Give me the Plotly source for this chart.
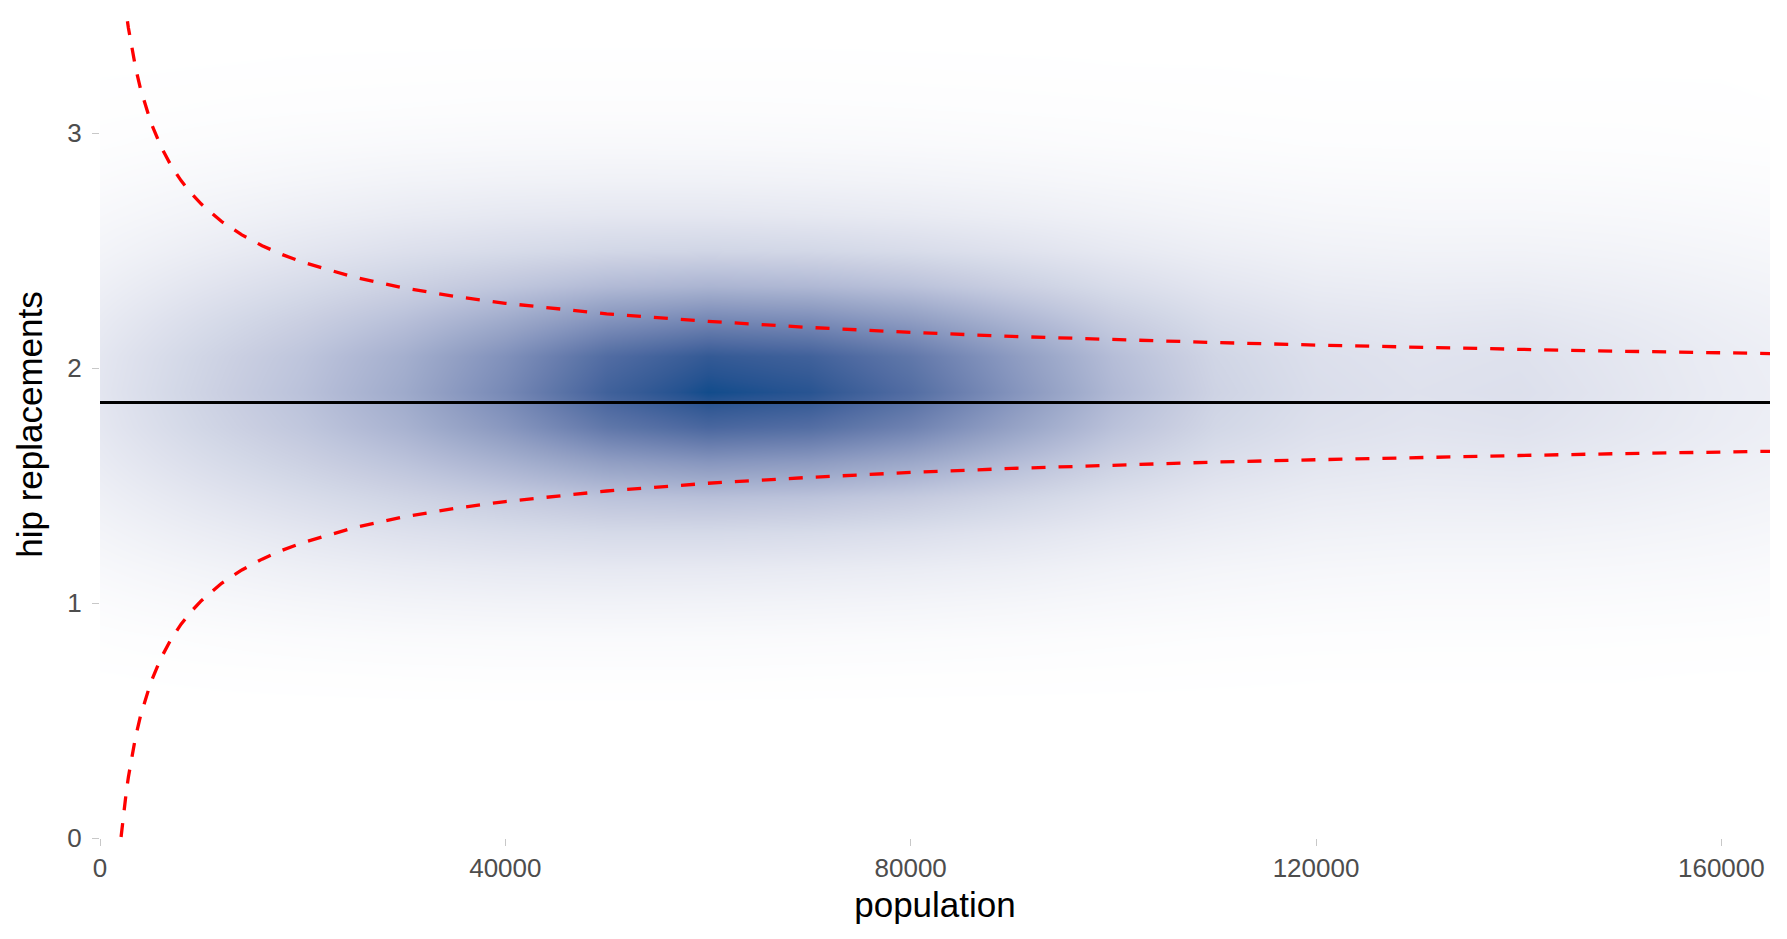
import plotly.graph_objects as go

# ---------------- data ----------------
# density grid (relative, 0..1) of areas by population and rate
grid_population = [0, 10000, 20000, 30000, 40000, 50000, 60000, 70000, 80000,
                   90000, 100000, 110000, 120000, 130000, 140000, 150000, 160000, 164800]
grid_rate = [0.55, 0.7, 0.85, 1.0, 1.15, 1.3, 1.45, 1.6, 1.75, 1.9, 2.05, 2.2, 2.35,
             2.5, 2.65, 2.8, 2.95, 3.1, 3.25, 3.4, 3.55]
density = [
    [0, 0, 0, 0, 0, 0, 0, 0, 0, 0, 0, 0, 0, 0, 0, 0, 0, 0],
    [.002, .004, .006, .008, .009, .009, .009, .008, .007, .006, .005, .004, .003, .003, .003, .003, .002, .002],
    [.008, .014, .020, .024, .026, .027, .026, .024, .022, .019, .015, .012, .010, .009, .009, .008, .007, .006],
    [.020, .034, .046, .056, .062, .064, .062, .058, .053, .046, .037, .030, .025, .023, .023, .021, .018, .016],
    [.036, .058, .080, .097, .108, .113, .111, .104, .095, .082, .064, .051, .043, .039, .039, .036, .031, .027],
    [.055, .090, .122, .152, .174, .189, .190, .180, .161, .135, .105, .083, .067, .062, .062, .056, .047, .042],
    [.077, .128, .176, .223, .268, .313, .328, .311, .273, .219, .161, .119, .096, .088, .090, .080, .065, .058],
    [.100, .169, .236, .311, .403, .508, .557, .529, .455, .346, .238, .164, .128, .115, .120, .102, .082, .073],
    [.119, .207, .291, .398, .547, .731, .828, .786, .666, .490, .320, .206, .155, .137, .145, .121, .094, .084],
    [.128, .224, .318, .443, .627, .862, .994, .944, .790, .572, .364, .226, .168, .148, .158, .128, .098, .088],
    [.122, .212, .300, .416, .583, .794, .908, .861, .727, .529, .339, .213, .159, .140, .149, .122, .094, .084],
    [.102, .175, .246, .331, .443, .580, .648, .616, .525, .391, .261, .173, .132, .118, .124, .104, .082, .073],
    [.078, .131, .182, .236, .293, .357, .386, .366, .318, .247, .176, .126, .098, .090, .092, .080, .065, .058],
    [.055, .091, .125, .158, .184, .207, .214, .204, .180, .148, .112, .085, .068, .062, .063, .057, .047, .042],
    [.037, .059, .081, .100, .114, .121, .121, .114, .103, .087, .069, .054, .044, .040, .040, .037, .031, .027],
    [.022, .036, .048, .060, .066, .069, .068, .064, .058, .050, .040, .032, .026, .024, .024, .022, .018, .016],
    [.011, .018, .025, .030, .033, .034, .033, .031, .028, .024, .019, .015, .012, .011, .011, .010, .008, .007],
    [.005, .008, .011, .013, .015, .015, .015, .014, .013, .011, .009, .007, .005, .005, .005, .005, .004, .003],
    [.002, .003, .004, .005, .006, .006, .006, .006, .005, .004, .003, .003, .002, .002, .002, .002, .002, .001],
    [0, 0, .001, .001, .001, .001, .001, .001, .001, .001, .001, 0, 0, 0, 0, 0, 0, 0],
    [0, 0, 0, 0, 0, 0, 0, 0, 0, 0, 0, 0, 0, 0, 0, 0, 0, 0],
]

# overall mean rate
mean_population = [0, 164800]
mean_rate = [1.854, 1.854]

# funnel (95% control limits)
funnel_population = [2080, 2200, 2400, 2600, 2800, 3000, 3500, 4000, 4500, 5000,
                     6000, 7000, 8000, 9000, 10000, 12000, 14000, 16000, 18000, 20000,
                     25000, 30000, 35000, 40000, 50000, 60000, 70000, 80000, 90000,
                     100000, 110000, 120000, 130000, 140000, 150000, 160000, 164800]
funnel_upper = [3.705, 3.653, 3.577, 3.509, 3.449, 3.395, 3.281, 3.188, 3.112, 3.048,
                2.944, 2.863, 2.798, 2.744, 2.698, 2.624, 2.567, 2.521, 2.483, 2.451,
                2.388, 2.341, 2.305, 2.276, 2.231, 2.199, 2.173, 2.152, 2.135,
                2.121, 2.109, 2.098, 2.088, 2.080, 2.072, 2.065, 2.062]
funnel_lower = [0.004, 0.055, 0.131, 0.199, 0.259, 0.313, 0.428, 0.520, 0.596, 0.661,
                0.764, 0.845, 0.910, 0.964, 1.010, 1.084, 1.141, 1.187, 1.225, 1.257,
                1.320, 1.367, 1.403, 1.432, 1.477, 1.510, 1.535, 1.556, 1.573,
                1.587, 1.600, 1.610, 1.620, 1.628, 1.636, 1.643, 1.646]

x_ticks = [0, 40000, 80000, 120000, 160000]
y_ticks = [0, 1, 2, 3]

# ---------------- colour scale: white -> dark blue, interpolated in CIELab ----------------
def _lin(c):
    c = c / 255.0
    return c / 12.92 if c <= 0.04045 else ((c + 0.055) / 1.055) ** 2.4

def _delin(c):
    c = 12.92 * c if c <= 0.0031308 else 1.055 * c ** (1 / 2.4) - 0.055
    return max(0, min(255, round(c * 255)))

WX, WY, WZ = 0.95047, 1.0, 1.08883

def rgb_to_lab(rgb):
    r, g, b = (_lin(v) for v in rgb)
    X = 0.4124 * r + 0.3576 * g + 0.1805 * b
    Y = 0.2126 * r + 0.7152 * g + 0.0722 * b
    Z = 0.0193 * r + 0.1192 * g + 0.9505 * b
    def f(t):
        return t ** (1 / 3) if t > 0.008856 else 7.787 * t + 16 / 116
    fx, fy, fz = f(X / WX), f(Y / WY), f(Z / WZ)
    return (116 * fy - 16, 500 * (fx - fy), 200 * (fy - fz))

def lab_to_rgb(lab):
    L, a, b = lab
    fy = (L + 16) / 116
    fx = fy + a / 500
    fz = fy - b / 200
    def finv(t):
        return t ** 3 if t ** 3 > 0.008856 else (t - 16 / 116) / 7.787
    X, Y, Z = WX * finv(fx), WY * finv(fy), WZ * finv(fz)
    r = 3.2406 * X - 1.5372 * Y - 0.4986 * Z
    g = -0.9689 * X + 1.8758 * Y + 0.0415 * Z
    bb = 0.0557 * X - 0.2040 * Y + 1.0570 * Z
    return tuple(_delin(max(0.0, v)) for v in (r, g, bb))

low_col = (255, 255, 255)
high_col = (15, 75, 139)
lab_lo, lab_hi = rgb_to_lab(low_col), rgb_to_lab(high_col)
colorscale = []
n_stops = 21
for i in range(n_stops):
    t = i / (n_stops - 1)
    lab = tuple(lab_lo[k] + (lab_hi[k] - lab_lo[k]) * t for k in range(3))
    r, g, b = lab_to_rgb(lab)
    colorscale.append([t, f"rgb({r},{g},{b})"])

# ---------------- figure ----------------
FONT = "Liberation Sans, Arial, Helvetica, sans-serif"
RED_DASH = dict(color="#FF0000", width=3.3, dash="14px,13px")

fig = go.Figure()
fig.add_trace(go.Heatmap(
    x=grid_population, y=grid_rate, z=density,
    zmin=0, zmax=1, zsmooth="best",
    colorscale=colorscale, showscale=False, hoverinfo="skip",
))
fig.add_trace(go.Scatter(x=funnel_population, y=funnel_upper, mode="lines",
                         line=RED_DASH, hoverinfo="skip"))
fig.add_trace(go.Scatter(x=funnel_population, y=funnel_lower, mode="lines",
                         line=RED_DASH, hoverinfo="skip"))
fig.add_trace(go.Scatter(x=mean_population, y=mean_rate, mode="lines",
                         line=dict(color="#000000", width=3), hoverinfo="skip"))

# page body has an 8px margin, so the figure is sized/placed to compensate
fig.update_layout(
    width=1771, height=923,
    margin=dict(l=92, r=9, t=3, b=93),
    paper_bgcolor="white", plot_bgcolor="white",
    showlegend=False,
    font=dict(family=FONT),
)
fig.update_xaxes(
    range=[0, 164800], tickvals=x_ticks, ticktext=[str(v) for v in x_ticks],
    showgrid=False, zeroline=False, showline=False,
    ticks="outside", ticklen=7, tickwidth=1, tickcolor="#c8c8c8",
    tickfont=dict(size=26, color="#4d4d4d", family=FONT),
    title=dict(text="population", font=dict(size=35, color="#000000", family=FONT), standoff=10),
    automargin=False,
)
fig.update_yaxes(
    range=[0, 3.52], tickvals=y_ticks, ticktext=[str(v) for v in y_ticks],
    showgrid=False, zeroline=False, showline=False,
    ticks="outside", ticklen=7, tickwidth=1, tickcolor="#c8c8c8",
    ticklabelstandoff=5,
    tickfont=dict(size=26, color="#4d4d4d", family=FONT),
    title=dict(text="hip replacements", font=dict(size=35, color="#000000", family=FONT), standoff=14),
    automargin=False,
)

fig.write_html("out.html")
